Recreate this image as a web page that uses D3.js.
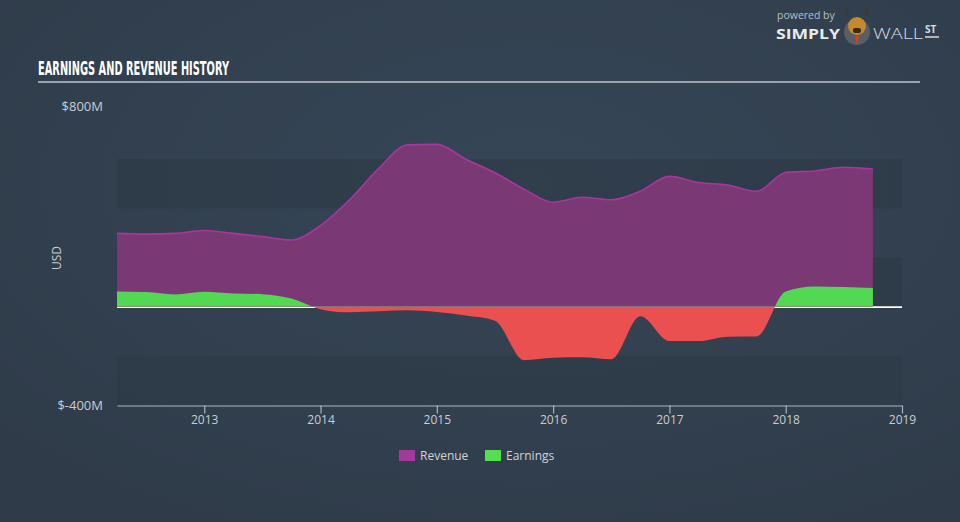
<!DOCTYPE html>
<html>
<head>
<meta charset="utf-8">
<script src="https://cdn.jsdelivr.net/npm/d3@7"></script>
<style>
  html, body { margin: 0; padding: 0; background: #323f4e; }
  svg { display: block; }
</style>
</head>
<body>
<svg id="chart" width="960" height="522"></svg>
<script>
// ---- data (quarter-end, decimal years) ----
const periods = [2012.25, 2012.5, 2012.75, 2013.0, 2013.25, 2013.5, 2013.75,
  2014.0, 2014.25, 2014.5, 2014.75, 2015.0, 2015.25, 2015.5, 2015.75,
  2016.0, 2016.25, 2016.5, 2016.75, 2017.0, 2017.25, 2017.5, 2017.75,
  2018.0, 2018.25, 2018.5, 2018.75];
const revenue = [298, 295, 298, 310, 298, 285, 271,
  330, 435, 562, 658, 660, 600, 545, 478,
  425, 445, 435, 470, 530, 505, 495, 469,
  546, 552, 567, 560];
const earnings = [62, 60, 50, 61, 54, 51, 33,
  -10, -23, -19, -15, -22, -36, -57, -218,
  -208, -206, -214, -39, -140, -140, -122, -121,
  62, 82, 80, 76];
const xTickYears = [2013, 2014, 2015, 2016, 2017, 2018, 2019];
const yTickValues = [800, -400];
const yTickLabels = ["$800M", "$-400M"];
const bandRanges = [[400, 600], [0, 200], [-400, -200]];
const legendItems = ["Revenue", "Earnings"];

// ---- setup ----
const svg = d3.select("#chart");
const W = 960, H = 522;
const defs = svg.append("defs");
const grad = defs.append("radialGradient").attr("id", "bg")
  .attr("cx", "55%").attr("cy", "35%").attr("r", "75%");
grad.append("stop").attr("offset", "0%").attr("stop-color", "#364657");
grad.append("stop").attr("offset", "100%").attr("stop-color", "#2f3b49");
svg.append("rect").attr("width", W).attr("height", H).attr("fill", "url(#bg)");

const x = d3.scaleLinear().domain([2012.25, 2019]).range([117, 902]);
const y = d3.scaleLinear().domain([-400, 800]).range([405, 110]);

// bands
svg.append("g").selectAll("rect").data(bandRanges).join("rect")
  .attr("x", x(2012.25)).attr("width", x(2019) - x(2012.25))
  .attr("y", d => y(d[1])).attr("height", d => y(d[0]) - y(d[1]))
  .attr("fill", "#2b3846").attr("fill-opacity", 0.55);

// zero line
svg.append("line")
  .attr("x1", x(2012.25)).attr("x2", x(2019))
  .attr("y1", y(0) + 0.5).attr("y2", y(0) + 0.5)
  .attr("stroke", "#ffffff").attr("stroke-width", 1.6);

const curve = d3.curveMonotoneX;
const revData = periods.map((p, i) => ({ p, v: revenue[i] }));
const earnData = periods.map((p, i) => ({ p, v: earnings[i] }));

// revenue area
svg.append("path").datum(revData)
  .attr("d", d3.area().curve(curve).x(d => x(d.p)).y0(y(0)).y1(d => y(d.v)))
  .attr("fill", "#7a3875");
svg.append("path").datum(revData)
  .attr("d", d3.line().curve(curve).x(d => x(d.p)).y(d => y(d.v)))
  .attr("fill", "none").attr("stroke", "#a8379d").attr("stroke-width", 1.6);

// earnings clipped into positive (green) and negative (red)
defs.append("clipPath").attr("id", "clipPos").append("rect")
  .attr("x", 0).attr("y", 0).attr("width", W).attr("height", y(0));
defs.append("clipPath").attr("id", "clipNeg").append("rect")
  .attr("x", 0).attr("y", y(0)).attr("width", W).attr("height", H - y(0));
const earnArea = d3.area().curve(curve).x(d => x(d.p)).y0(y(0)).y1(d => y(d.v));
svg.append("path").datum(earnData).attr("d", earnArea)
  .attr("fill", "#53d853").attr("clip-path", "url(#clipPos)");
svg.append("path").datum(earnData).attr("d", earnArea)
  .attr("fill", "#eb5050").attr("clip-path", "url(#clipNeg)");

// x axis
const xAxis = svg.append("g").attr("transform", `translate(0,${y(-400) + 0.5})`)
  .call(d3.axisBottom(x).tickValues(xTickYears).tickFormat(d3.format("d"))
    .tickSize(8).tickSizeOuter(0).tickPadding(2));
xAxis.select(".domain").attr("stroke", "#aab4bf").attr("stroke-width", 1.2);
xAxis.selectAll(".tick line").attr("stroke", "#aab4bf").attr("stroke-width", 1.2);
xAxis.selectAll(".tick text").attr("fill", "#c8cdd3")
  .style("font-family", "'Open Sans', 'DejaVu Sans', sans-serif").style("font-size", "12px");

// y axis labels
const yAxis = svg.append("g").attr("transform", `translate(103,0)`)
  .call(d3.axisLeft(y).tickValues(yTickValues)
    .tickFormat((d, i) => yTickLabels[i]).tickSize(0).tickPadding(0));
yAxis.select(".domain").remove();
yAxis.selectAll(".tick text").attr("fill", "#c8cdd3")
  .style("font-family", "'Open Sans', 'DejaVu Sans', sans-serif").style("font-size", "13px");
yAxis.selectAll(".tick").filter(d => d === 800).select("text").attr("dy", "0.05em");

svg.append("text").attr("transform", "translate(61,258) rotate(-90)")
  .attr("text-anchor", "middle").attr("fill", "#c8cdd3")
  .style("font-family", "'Open Sans', 'DejaVu Sans', sans-serif").style("font-size", "12px")
  .text("USD");

// title
svg.append("text").attr("x", 38).attr("y", 75)
  .attr("fill", "#ffffff")
  .attr("textLength", 191).attr("lengthAdjust", "spacingAndGlyphs")
  .style("font-family", "'Liberation Sans Narrow', 'DejaVu Sans Condensed', sans-serif")
  .style("font-weight", "bold").style("font-size", "19px")
  .text("EARNINGS AND REVENUE HISTORY");
svg.append("line").attr("x1", 38).attr("x2", 920).attr("y1", 82).attr("y2", 82)
  .attr("stroke", "#9aa3ad").attr("stroke-width", 2);

// logo
const logo = svg.append("g");
logo.append("text").attr("x", 777).attr("y", 19).attr("fill", "#b8bfc7")
  .style("font-family", "'Open Sans', sans-serif").style("font-size", "10.5px").text("powered by");
logo.append("text").attr("x", 776).attr("y", 39).attr("fill", "#e8ebee")
  .attr("textLength", 64).attr("lengthAdjust", "spacingAndGlyphs")
  .style("font-family", "'Open Sans', sans-serif").style("font-weight", "bold").style("font-size", "14px")
  .text("SIMPLY");
logo.append("circle").attr("cx", 857).attr("cy", 32).attr("r", 13).attr("fill", "#5a5f66");
logo.append("circle").attr("cx", 857).attr("cy", 26).attr("r", 9).attr("fill", "#c58a2e");
logo.append("path").attr("d", "M846,16 q-2,-6 2,-9 q-1,5 3,7 Z M868,16 q2,-6 -2,-9 q1,5 -3,7 Z").attr("fill", "#3a3a3a");
logo.append("rect").attr("x", 853).attr("y", 28).attr("width", 8).attr("height", 5).attr("rx", 2).attr("fill", "#3b2a1a");
logo.append("path").attr("d", "M855,36 L857,45 L859,36 Z").attr("fill", "#d6402b");
logo.append("text").attr("x", 873).attr("y", 39).attr("fill", "#d7dce1")
  .attr("textLength", 50).attr("lengthAdjust", "spacingAndGlyphs")
  .style("font-family", "'Open Sans', sans-serif").style("font-weight", "300").style("font-size", "14px")
  .text("WALL");
logo.append("text").attr("x", 925).attr("y", 33).attr("fill", "#d7dce1")
  .style("font-family", "'Open Sans', sans-serif").style("font-weight", "bold").style("font-size", "10px")
  .text("ST");
logo.append("line").attr("x1", 925).attr("x2", 939).attr("y1", 37).attr("y2", 37)
  .attr("stroke", "#d7dce1").attr("stroke-width", 1.5);

// legend
const legendColors = ["#a3399b", "#52e052"];
const legendX = [399, 485];
const lg = svg.append("g").selectAll("g").data(legendItems).join("g")
  .attr("transform", (d, i) => `translate(${legendX[i]},450)`);
lg.append("rect").attr("width", 16).attr("height", 11).attr("fill", (d, i) => legendColors[i]);
lg.append("text").attr("x", 21).attr("y", 10).attr("fill", "#d0d4d9")
  .style("font-family", "'Open Sans', 'DejaVu Sans', sans-serif").style("font-size", "12px")
  .text(d => d);
</script>
</body>
</html>
